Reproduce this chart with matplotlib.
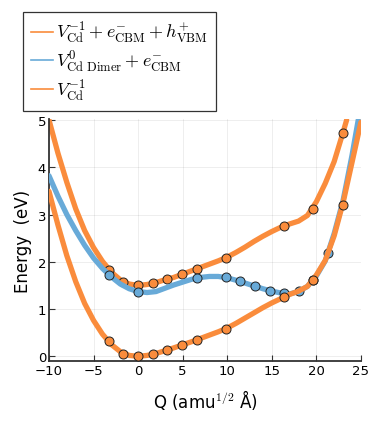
import matplotlib
matplotlib.use("Agg")
import matplotlib.pyplot as plt

plt.rcParams['font.family'] = ['DejaVu Sans']
plt.rcParams['mathtext.fontset'] = 'cm'

# === 曲線 ===
curve_q_top = [-10, -9, -8, -7, -6, -5, -4, -3, -2, -1, 0, 1, 2, 3, 4, 5, 6, 7, 8, 9, 10,
               11, 12, 13, 14, 15, 16, 17, 18, 19, 20, 21, 22, 23, 23.4]
curve_e_top = [5.00, 4.30, 3.68, 3.12, 2.66, 2.30, 2.01, 1.78, 1.62, 1.53, 1.50, 1.52, 1.56,
               1.62, 1.67, 1.74, 1.81, 1.88, 1.95, 2.02, 2.10, 2.20, 2.31, 2.43, 2.54, 2.64,
               2.73, 2.80, 2.86, 2.98, 3.27, 3.66, 4.12, 4.74, 5.00]

curve_q_dim = [-10, -9, -8, -7, -6, -5, -4, -3, -2, -1, 0, 1, 2, 3, 4, 5, 6, 7, 8, 9, 10,
               11, 12, 13, 14, 15, 16, 17, 18, 19, 20, 21, 22, 23, 24, 24.7]
curve_e_dim = [3.82, 3.39, 3.00, 2.66, 2.35, 2.08, 1.86, 1.68, 1.53, 1.43, 1.37, 1.35, 1.37,
               1.44, 1.51, 1.57, 1.63, 1.67, 1.69, 1.69, 1.66, 1.61, 1.55, 1.49, 1.43, 1.38,
               1.34, 1.32, 1.37, 1.48, 1.70, 2.02, 2.60, 3.30, 4.25, 5.00]

curve_q_gs = [-10, -9, -8, -7, -6, -5, -4, -3, -2, -1, 0, 1, 2, 3, 4, 5, 6, 7, 8, 9, 10,
              11, 12, 13, 14, 15, 16, 17, 18, 19, 20, 21, 22, 23, 24, 25]
curve_e_gs = [3.49, 2.78, 2.13, 1.58, 1.12, 0.76, 0.47, 0.25, 0.10, 0.02, 0.00, 0.02, 0.06,
              0.12, 0.18, 0.245, 0.31, 0.38, 0.45, 0.52, 0.60, 0.70, 0.81, 0.92, 1.03, 1.13,
              1.22, 1.31, 1.38, 1.48, 1.72, 2.03, 2.55, 3.25, 4.10, 4.95]

# === 計算點 ===
q_top = [-3.28, -1.64, 0, 1.64, 3.28, 4.92, 6.56, 9.84, 16.4, 19.68, 22.96]
e_top = [1.82, 1.57, 1.50, 1.55, 1.64, 1.74, 1.85, 2.08, 2.76, 3.12, 4.72]

q_dim = [-3.28, 0, 6.56, 9.84, 11.48, 13.12, 14.76, 16.4, 18.04, 19.68, 21.32]
e_dim = [1.73, 1.37, 1.66, 1.67, 1.59, 1.48, 1.38, 1.34, 1.38, 1.62, 2.19]

q_gs = [-3.28, -1.64, 0, 1.64, 3.28, 4.92, 6.56, 9.84, 16.4, 19.68, 22.96]
e_gs = [0.32, 0.06, 0.00, 0.04, 0.13, 0.24, 0.35, 0.58, 1.26, 1.62, 3.21]

labels = [r"$V_{\mathrm{Cd}}^{-1} + e_{\mathrm{CBM}}^{-} + h_{\mathrm{VBM}}^{+}$",
          r"$V_{\mathrm{Cd\ Dimer}}^{0} + e_{\mathrm{CBM}}^{-}$",
          r"$V_{\mathrm{Cd}}^{-1}$"]

orange = "#FA8C3C"
blue = "#68AAD8"

fig = plt.figure(figsize=(3.74, 4.27), dpi=100)
ax = fig.add_axes([0.131, 0.152, 0.834, 0.567])

handles = []
series = [(curve_q_top, curve_e_top, q_top, e_top, orange),
          (curve_q_dim, curve_e_dim, q_dim, e_dim, blue),
          (curve_q_gs, curve_e_gs, q_gs, e_gs, orange)]
for i, (cq, ce, q, e, c) in enumerate(series):
    ax.plot(cq, ce, color=c, lw=3.8, solid_capstyle="round", solid_joinstyle="round",
            zorder=2 + 2 * i)
    ax.plot(q, e, "o", ms=6.5, mfc=c, mec="#222222", mew=0.7, zorder=3 + 2 * i)
    handles.append(plt.Line2D([], [], color=c, lw=1.2))

ax.set_xlim(-10, 25)
ax.set_ylim(-0.1, 5.02)
ax.set_xticks(range(-10, 26, 5))
ax.set_yticks(range(0, 6))
ax.grid(True, color="#000000", alpha=0.08, lw=0.6)
for s in ["top", "right"]:
    ax.spines[s].set_visible(False)
for s in ["left", "bottom"]:
    ax.spines[s].set_color("#333333")
    ax.spines[s].set_linewidth(1.3)
ax.tick_params(direction="in", length=4, width=0.8, color="#333333", labelsize=9.5, pad=2)

ax.set_xlabel(r"Q (amu$^{\mathsf{1/2}}$ Å)", fontsize=12, labelpad=7)
ax.set_ylabel("Energy  (eV)", fontsize=12, labelpad=4)

leg = fig.legend(handles, labels, loc="upper left", bbox_to_anchor=(0.062, 0.97),
                 fontsize=13, frameon=True, fancybox=False, handlelength=1.2,
                 handletextpad=0.15, borderpad=0.45, labelspacing=0.2, borderaxespad=0)
leg.get_frame().set_edgecolor("black")
leg.get_frame().set_linewidth(0.9)

plt.savefig("out.png", dpi=100)
